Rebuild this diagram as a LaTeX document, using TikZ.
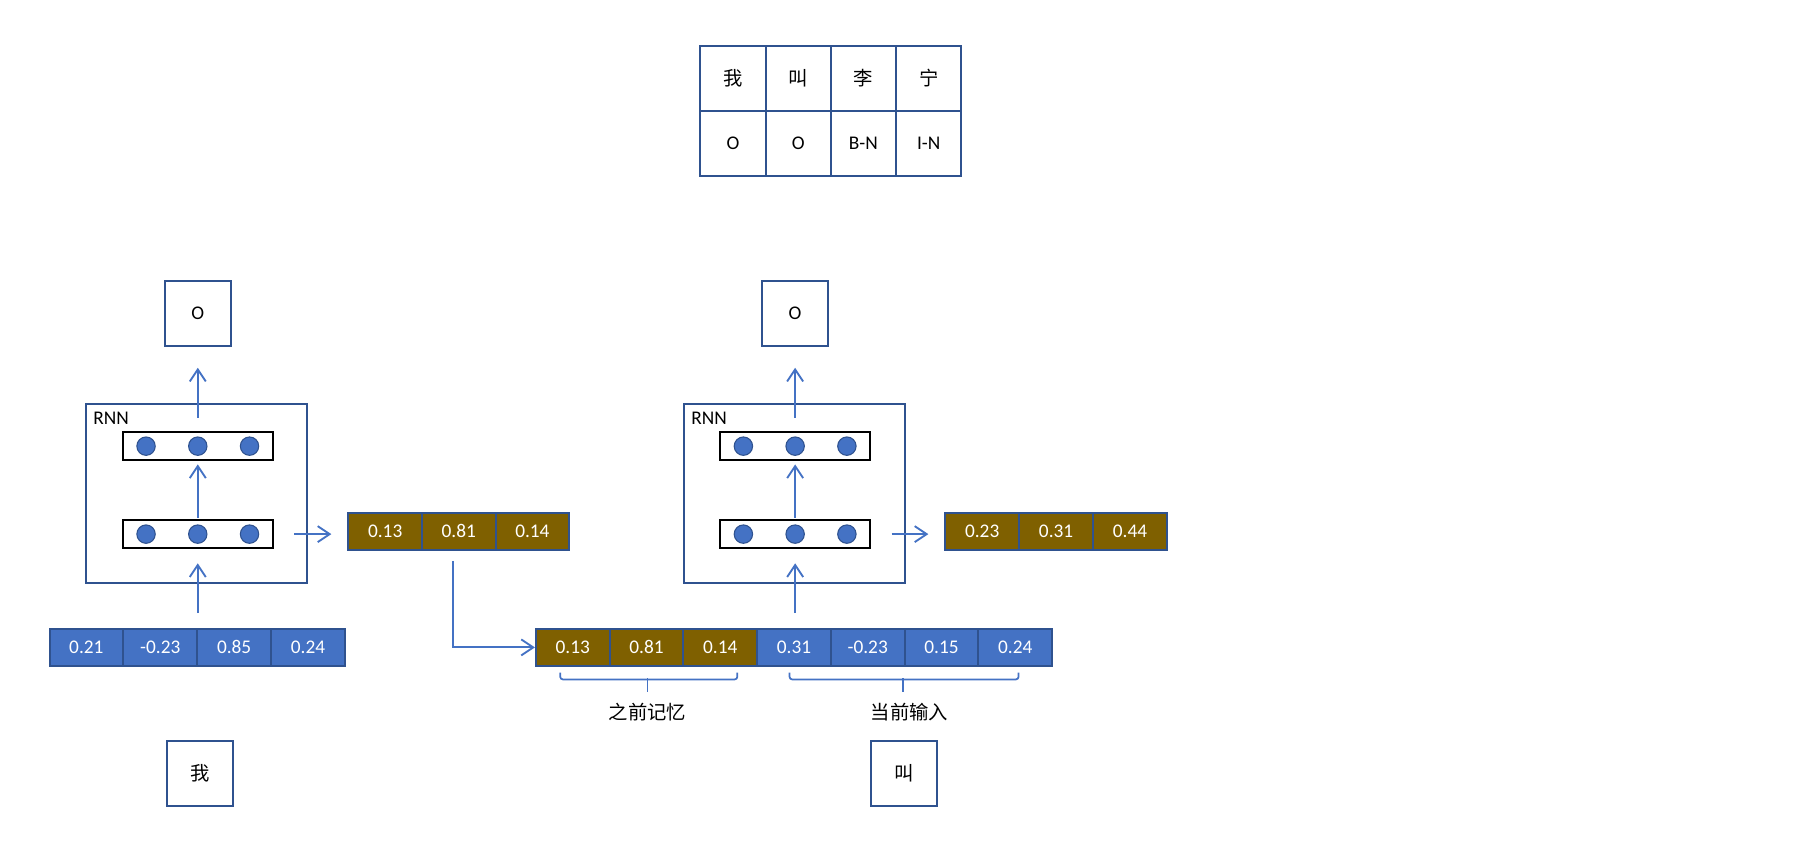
\documentclass[tikz,border=0pt]{standalone}
\usepackage{fontspec}
\setmainfont{Carlito}
\newfontfamily\cjk{Noto Sans CJK SC}
\usetikzlibrary{arrows.meta,calc}
\definecolor{blu}{HTML}{4472C4}
\definecolor{bord}{HTML}{2F528F}
\definecolor{brn}{HTML}{7F6000}
\def\ux{0.8625pt}
\begin{document}
\begin{tikzpicture}[x=0.8625pt,y=-0.8625pt,
  every node/.style={font=\fontsize{14.5}{17}\selectfont},
  cellbase/.style={draw=bord,line width=1.5pt,inner sep=0pt,minimum width=64*\ux,minimum height=32*\ux,text=white},
  bcell/.style={cellbase,fill=blu},
  hcell/.style={cellbase,fill=brn},
  tcell/.style={draw=bord,line width=1.5pt,inner sep=0pt,minimum width=56.75*\ux,minimum height=56.5*\ux},
  sqbox/.style={draw=bord,line width=1.5pt,inner sep=0pt,minimum width=57*\ux,minimum height=57*\ux},
  rnnbox/.style={draw=bord,line width=1.5pt,inner sep=0pt,minimum width=192*\ux,minimum height=156*\ux},
  layer/.style={draw=black,line width=1.5pt,inner sep=0pt,minimum width=130*\ux,minimum height=24*\ux},
  neuron/.style={circle,fill=blu,draw=bord,line width=0.8pt,inner sep=0pt,minimum size=16*\ux},
  arr/.style={draw=blu,line width=1.4pt,-{Straight Barb[length=9pt,width=12pt,line width=1.4pt]}},
  brace/.style={draw=blu,line width=1.3pt,rounded corners=2pt}
]
\useasboundingbox (0,0) rectangle (1568,747);

% table
\foreach \t [count=\i] in {我,叫,李,宁}
  \node[tcell] (ta-\i) at ({609+28.375+56.75*(\i-1)},68.25) {\cjk\t};
\foreach \t [count=\i] in {O,O,B-N,I-N}
  \node[tcell] (tb-\i) at ({609+28.375+56.75*(\i-1)},124.75) {\t};

% ---------- step 1 ----------
\node[sqbox] (o1) at (172,272.5) {O};
\node[rnnbox] (r1) at (171,429) {};
\node[anchor=west,inner sep=0pt] (r1l) at (81,364) {RNN};
\node[layer] (l1t) at (172,388) {};
\node[layer] (l1b) at (172,464.5) {};
\foreach \dx [count=\k] in {-45,0,45} {
  \node[neuron] (n1t\k) at ($(l1t)+(\dx,0)$) {};
  \node[neuron] (n1b\k) at ($(l1b)+(\dx,0)$) {};
}
\foreach \v [count=\i] in {0.21,-0.23,0.85,0.24}
  \node[bcell] (a-\i) at ({43+32.125+64.25*(\i-1)},563) {\v};
\foreach \v [count=\i] in {0.13,0.81,0.14}
  \node[hcell] (h1-\i) at ({303+32+64*(\i-1)},462) {\v};
\node[sqbox] (w1) at (174,672.5) {\cjk 我};

\draw[arr,shorten <=10.35pt,shorten >=15.5pt] (l1t.north) -- (o1.south);
\draw[arr,shorten <=1.3pt,shorten >=2.6pt] (l1b.north) -- (l1t.south);
\draw[arr,shorten <=11.2pt,shorten >=10.8pt] (l1b.south |- a-2.north) -- (l1b.south);
\draw[arr,shorten <=15.5pt,shorten >=12pt] (l1b.east) -- (l1b.east -| h1-1.west);

% ---------- combined vector ----------
\foreach \v [count=\i] in {0.13,0.81,0.14}
  \node[hcell] (cb-\i) at ({466+32.07+64.14*(\i-1)},563) {\v};
\foreach \v [count=\i from 4] in {0.31,-0.23,0.15,0.24}
  \node[bcell] (cb-\i) at ({466+32.07+64.14*(\i-1)},563) {\v};

\coordinate (c1) at ($(h1-2.south)+(-5,9)$);
\draw[arr] (c1) |- (cb-1.west);

\draw[brace] ($(cb-1.south west)+(22,5)$) -- ++(0,6) -- ($(cb-3.south east)+(-18,11)$) -- ++(0,-6);
\draw[brace] (563,590) -- (563,602);
\node (m1) at (563,619) {\cjk 之前记忆};
\draw[brace] ($(cb-4.south west)+(29,5)$) -- ++(0,6) -- ($(cb-7.south east)+(-30,11)$) -- ++(0,-6);
\draw[brace] (785,590) -- (785,602);
\node (m2) at (791,619) {\cjk 当前输入};

% ---------- step 2 ----------
\node[sqbox] (o2) at (691.5,272.5) {O};
\node[rnnbox] (r2) at (691,429) {};
\node[anchor=west,inner sep=0pt] (r2l) at (601,364) {RNN};
\node[layer] (l2t) at (691.5,388) {};
\node[layer] (l2b) at (691.5,464.5) {};
\foreach \dx [count=\k] in {-45,0,45} {
  \node[neuron] (n2t\k) at ($(l2t)+(\dx,0)$) {};
  \node[neuron] (n2b\k) at ($(l2b)+(\dx,0)$) {};
}
\foreach \v [count=\i] in {0.23,0.31,0.44}
  \node[hcell] (h2-\i) at ({822+32.15+64.3*(\i-1)},462) {\v};
\node[sqbox] (w2) at (786,672.5) {\cjk 叫};

\draw[arr,shorten <=10.35pt,shorten >=15.5pt] (l2t.north) -- (l2t.north |- o2.south);
\draw[arr,shorten <=1.3pt,shorten >=2.6pt] (l2b.north) -- (l2t.south);
\draw[arr,shorten <=11.2pt,shorten >=10.8pt] (l2b.south |- cb-4.north) -- (l2b.south);
\draw[arr,shorten <=15.5pt,shorten >=12pt] (l2b.east) -- (l2b.east -| h2-1.west);
\end{tikzpicture}
\end{document}
